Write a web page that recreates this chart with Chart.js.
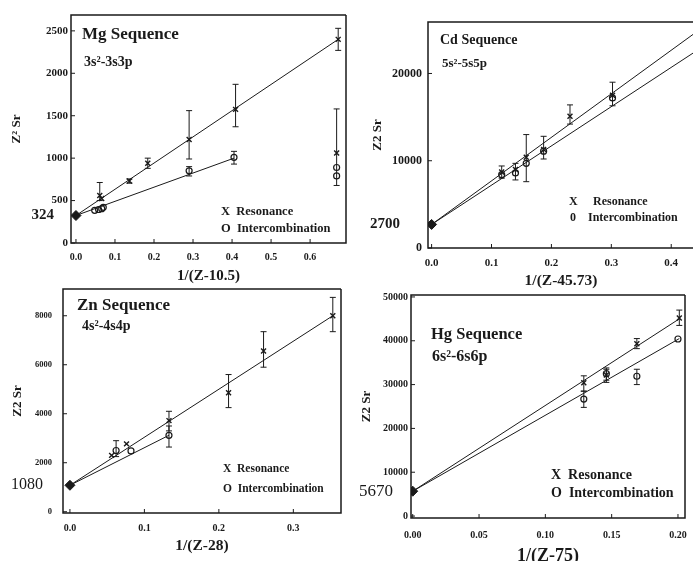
<!DOCTYPE html>
<html>
<head>
<meta charset="utf-8">
<title>Z2 Sr sequences</title>
<script src="https://cdn.jsdelivr.net/npm/chart.js@4.4.0/dist/chart.umd.min.js"></script>
<style>
    html, body { margin: 0; padding: 0; background: #fff; width: 693px; height: 561px; overflow: hidden; position: relative; }
    canvas { position: absolute; }
</style>
</head>
<body>
<canvas id="mg"></canvas>
<canvas id="cd"></canvas>
<canvas id="zn"></canvas>
<canvas id="hg"></canvas>
<script>
// ---- Mg sequence ----
const mgXTicks = [0, 0.1, 0.2, 0.3, 0.4, 0.5, 0.6];
const mgYTicks = [0, 500, 1000, 1500, 2000, 2500];
const mgIntercept = 324;
const mgResX = [0.061, 0.066, 0.137, 0.184, 0.290, 0.409, 0.672, 0.668];
const mgResY = [560, 525, 730, 940, 1220, 1575, 2400, 1060];
const mgResLo = [500, null, 705, 880, 990, 1370, 2270, 678];
const mgResHi = [713, null, 755, 1000, 1560, 1870, 2530, 1580];
const mgIntX = [0.048, 0.058, 0.066, 0.070, 0.290, 0.405, 0.668, 0.668];
const mgIntY = [385, 395, 405, 420, 850, 1010, 890, 790];
const mgIntLo = [null, null, null, null, 790, 930, null, null];
const mgIntHi = [null, null, null, null, 900, 1080, null, null];
const mgResFitX = [0, 0.672];
const mgResFitY = [324, 2400];
const mgIntFitX = [0, 0.405];
const mgIntFitY = [324, 1000];

// ---- Cd sequence ----
const cdXTicks = [0, 0.1, 0.2, 0.3, 0.4];
const cdYTicks = [0, 10000, 20000];
const cdIntercept = 2700;
const cdResX = [0.117, 0.140, 0.158, 0.187, 0.231, 0.302];
const cdResY = [8700, 9000, 10400, 11300, 15100, 17500];
const cdResLo = [8000, 7800, 7600, 10200, 14200, 16300];
const cdResHi = [9400, 9700, 13000, 12800, 16400, 19000];
const cdIntX = [0.117, 0.140, 0.158, 0.187, 0.302];
const cdIntY = [8400, 8600, 9700, 11100, 17200];
const cdResFitX = [0, 0.438];
const cdResFitY = [2700, 24560];
const cdIntFitX = [0, 0.438];
const cdIntFitY = [2700, 22410];

// ---- Zn sequence ----
const znXTicks = [0, 0.1, 0.2, 0.3];
const znYTicks = [0, 2000, 4000, 6000, 8000];
const znIntercept = 1080;
const znResX = [0.056, 0.076, 0.133, 0.213, 0.260, 0.353];
const znResY = [2300, 2770, 3720, 4860, 6560, 8000];
const znResLo = [null, null, 3300, 4250, 5900, 7350];
const znResHi = [null, null, 4100, 5600, 7350, 8750];
const znIntX = [0.062, 0.082, 0.133];
const znIntY = [2500, 2480, 3120];
const znIntLo = [2250, null, 2640];
const znIntHi = [2900, null, 3500];
const znResFitX = [0, 0.353];
const znResFitY = [1080, 8000];
const znIntFitX = [0, 0.133];
const znIntFitY = [1080, 3120];

// ---- Hg sequence ----
const hgXTicks = [0, 0.05, 0.10, 0.15, 0.20];
const hgYTicks = [0, 10000, 20000, 30000, 40000, 50000];
const hgIntercept = 5670;
const hgResX = [0.129, 0.146, 0.169, 0.201];
const hgResY = [30400, 32200, 39300, 45200];
const hgResLo = [28500, 30500, 38200, 43500];
const hgResHi = [32000, 33500, 40500, 47000];
const hgIntX = [0.129, 0.146, 0.169, 0.200];
const hgIntY = [26700, 32500, 31900, 40400];
const hgIntLo = [24800, 31000, 30000, null];
const hgIntHi = [28500, 33800, 33500, null];
const hgResFitX = [0, 0.201];
const hgResFitY = [5670, 45000];
const hgIntFitX = [0, 0.201];
const hgIntFitY = [5670, 40500];

const SERIF = '"Liberation Serif", "DejaVu Serif", serif';
const INK = '#1a1a1a';

function pts(xs, ys) {
    return xs.map((x, i) => ({ x: x, y: ys[i] }));
}

// draws box frame, inward ticks, error bars and the text labels
const decorPlugin = {
    id: 'decor',
    afterDatasetsDraw(chart) {
        const cfg = chart.options.plugins.decor;
        const ctx = chart.ctx;
        const a = chart.chartArea;
        const xs = chart.scales.x, ys = chart.scales.y;
        ctx.save();
        ctx.strokeStyle = INK;
        ctx.fillStyle = INK;

        // frame
        ctx.lineWidth = 1.5;
        ctx.beginPath();
        ctx.moveTo(a.right, a.top);
        ctx.lineTo(a.left, a.top);
        ctx.lineTo(a.left, a.bottom);
        ctx.lineTo(a.right, a.bottom);
        if (cfg.closeRight) ctx.lineTo(a.right, a.top);
        ctx.stroke();

        // inward ticks
        ctx.lineWidth = 1;
        ctx.beginPath();
        xs.ticks.forEach(t => {
            const px = xs.getPixelForValue(t.value);
            ctx.moveTo(px, a.bottom);
            ctx.lineTo(px, a.bottom - 4);
        });
        ys.ticks.forEach(t => {
            const py = ys.getPixelForValue(t.value);
            ctx.moveTo(a.left, py);
            ctx.lineTo(a.left + 4, py);
        });
        ctx.stroke();

        // error bars
        ctx.lineWidth = 1;
        cfg.errors.forEach(e => {
            e.x.forEach((xv, i) => {
                if (e.lo[i] == null) return;
                const px = xs.getPixelForValue(xv);
                const p1 = ys.getPixelForValue(e.lo[i]);
                const p2 = ys.getPixelForValue(e.hi[i]);
                ctx.beginPath();
                ctx.moveTo(px, p1); ctx.lineTo(px, p2);
                ctx.moveTo(px - 3, p1); ctx.lineTo(px + 3, p1);
                ctx.moveTo(px - 3, p2); ctx.lineTo(px + 3, p2);
                ctx.stroke();
            });
        });

        // intercept value label left of the axis
        ctx.textAlign = 'right';
        ctx.textBaseline = 'middle';
        ctx.font = cfg.icptFont;
        ctx.fillText(String(cfg.icpt), a.left - cfg.icptGap, ys.getPixelForValue(cfg.icpt));

        // titles and legend texts
        ctx.textAlign = 'left';
        cfg.texts.forEach(t => {
            ctx.font = t.font;
            ctx.fillText(t.text, a.left + t.dx, a.top + t.dy);
        });
        ctx.restore();
    }
};

function makePanel(p) {
    const canvas = document.getElementById(p.id);
    const w = p.yAxisW + p.frameW + p.padRight;
    const h = p.padTop + p.frameH + p.xAxisH;
    canvas.width = w;
    canvas.height = h;
    canvas.style.left = (p.frameL - p.yAxisW) + 'px';
    canvas.style.top = (p.frameT - p.padTop) + 'px';

    const lineDs = (xs, ys) => ({
        type: 'line', data: pts(xs, ys), borderColor: INK, borderWidth: 1,
        pointRadius: 0, fill: false, tension: 0
    });

    new Chart(canvas, {
        type: 'scatter',
        data: {
            datasets: [
                lineDs(p.resFitX, p.resFitY),
                lineDs(p.intFitX, p.intFitY),
                {
                    data: pts(p.resX, p.resY), pointStyle: 'crossRot', pointRadius: 3.5,
                    borderColor: INK, borderWidth: 1.4
                },
                {
                    data: pts(p.intX, p.intY), pointStyle: 'circle', pointRadius: 3,
                    borderColor: INK, backgroundColor: 'rgba(0,0,0,0)', borderWidth: 1.2
                },
                {
                    data: [{ x: 0, y: p.icpt }], pointStyle: 'rectRot', pointRadius: 5,
                    borderColor: INK, backgroundColor: INK
                }
            ]
        },
        options: {
            responsive: false,
            animation: false,
            layout: { padding: { top: p.padTop, right: p.padRight, left: 0, bottom: 0 } },
            plugins: {
                legend: { display: false },
                tooltip: { enabled: false },
                decor: {
                    errors: p.errors, texts: p.texts, icpt: p.icpt,
                    icptFont: p.icptFont, icptGap: p.icptGap, closeRight: p.closeRight
                }
            },
            scales: {
                x: {
                    type: 'linear', min: p.xMin, max: p.xMax,
                    afterBuildTicks: s => { s.ticks = p.xTicks.map(v => ({ value: v })); },
                    afterFit: s => { s.height = p.xAxisH; s.paddingLeft = 0; s.paddingRight = 0; },
                    grid: { display: false, drawTicks: false },
                    border: { display: false },
                    ticks: {
                        padding: p.xTickPad, color: INK, maxRotation: 0, autoSkip: false,
                        font: { family: SERIF, size: p.xTickSize, weight: 'bold' },
                        callback: v => Number(v).toFixed(p.xDec)
                    },
                    title: {
                        display: true, text: p.xTitle, color: INK,
                        font: { family: SERIF, size: p.xTitleSize, weight: 'bold' },
                        padding: { top: 0, bottom: p.xTitlePad }
                    }
                },
                y: {
                    type: 'linear', min: p.yMin, max: p.yMax,
                    afterBuildTicks: s => { s.ticks = p.yTicks.map(v => ({ value: v })); },
                    afterFit: s => { s.width = p.yAxisW; s.paddingTop = 0; s.paddingBottom = 0; },
                    grid: { display: false, drawTicks: false },
                    border: { display: false },
                    ticks: {
                        padding: p.yTickPad, color: INK, autoSkip: false,
                        font: { family: SERIF, size: p.yTickSize, weight: 'bold' },
                        callback: v => String(v)
                    },
                    title: {
                        display: true, text: p.yTitle, color: INK,
                        font: { family: SERIF, size: 13, weight: 'bold' },
                        padding: { top: p.yTitlePad, bottom: 0 }
                    }
                }
            }
        },
        plugins: [decorPlugin]
    });
}

const titleFont = s => 'bold ' + s + 'px ' + SERIF;

makePanel({
    id: 'mg', frameL: 71, frameT: 13, frameW: 277, frameH: 230,
    yAxisW: 70, xAxisH: 44, padTop: 4, padRight: 4,
    xMin: -0.0127, xMax: 0.692, yMin: 0, yMax: 2687,
    xTicks: mgXTicks, yTicks: mgYTicks, xDec: 1, xTickPad: 8, xTitlePad: 2, yTitlePad: 8,
    xTickSize: 10, yTickSize: 11, yTickPad: 3, xTitleSize: 15,
    xTitle: '1/(Z-10.5)', yTitle: 'Z² Sr',
    icpt: mgIntercept, icptFont: 'bold 15px ' + SERIF, icptGap: 17, closeRight: true,
    resX: mgResX, resY: mgResY, intX: mgIntX, intY: mgIntY,
    resFitX: mgResFitX, resFitY: mgResFitY, intFitX: mgIntFitX, intFitY: mgIntFitY,
    errors: [{ x: mgResX, lo: mgResLo, hi: mgResHi }, { x: mgIntX, lo: mgIntLo, hi: mgIntHi }],
    texts: [
        { text: 'Mg Sequence', dx: 11, dy: 20, font: titleFont(17) },
        { text: '3s²-3s3p', dx: 13, dy: 47, font: titleFont(14) },
        { text: 'X  Resonance', dx: 150, dy: 197, font: titleFont(12.5) },
        { text: 'O  Intercombination', dx: 150, dy: 214, font: titleFont(12.5) }
    ]
});

makePanel({
    id: 'cd', frameL: 428, frameT: 20, frameW: 272, frameH: 228,
    yAxisW: 70, xAxisH: 44, padTop: 4, padRight: 0,
    xMin: -0.006, xMax: 0.438, yMin: 0, yMax: 25900,
    xTicks: cdXTicks, yTicks: cdYTicks, xDec: 1, xTickPad: 9, xTitlePad: 2, yTitlePad: 12,
    xTickSize: 11, yTickSize: 12, yTickPad: 6, xTitleSize: 15.5,
    xTitle: '1/(Z-45.73)', yTitle: 'Z2 Sr',
    icpt: cdIntercept, icptFont: 'bold 15px ' + SERIF, icptGap: 28, closeRight: false,
    resX: cdResX, resY: cdResY, intX: cdIntX, intY: cdIntY,
    resFitX: cdResFitX, resFitY: cdResFitY, intFitX: cdIntFitX, intFitY: cdIntFitY,
    errors: [{ x: cdResX, lo: cdResLo, hi: cdResHi }],
    texts: [
        { text: 'Cd Sequence', dx: 12, dy: 18, font: titleFont(14) },
        { text: '5s²-5s5p', dx: 14, dy: 42, font: titleFont(13) },
        { text: 'X', dx: 141, dy: 180, font: titleFont(12) },
        { text: 'Resonance', dx: 165, dy: 180, font: titleFont(12) },
        { text: '0', dx: 142, dy: 196, font: titleFont(12) },
        { text: 'Intercombination', dx: 160, dy: 196, font: titleFont(12) }
    ]
});

makePanel({
    id: 'zn', frameL: 63, frameT: 287, frameW: 280, frameH: 226,
    yAxisW: 62, xAxisH: 44, padTop: 4, padRight: 4,
    xMin: -0.0093, xMax: 0.364, yMin: -52, yMax: 9092,
    xTicks: znXTicks, yTicks: znYTicks, xDec: 1, xTickPad: 9, xTitlePad: 2, yTitlePad: 9,
    xTickSize: 10, yTickSize: 8.5, yTickPad: 11, xTitleSize: 15.5,
    xTitle: '1/(Z-28)', yTitle: 'Z2 Sr',
    icpt: znIntercept, icptFont: '16px ' + SERIF, icptGap: 20, closeRight: true,
    resX: znResX, resY: znResY, intX: znIntX, intY: znIntY,
    resFitX: znResFitX, resFitY: znResFitY, intFitX: znIntFitX, intFitY: znIntFitY,
    errors: [{ x: znResX, lo: znResLo, hi: znResHi }, { x: znIntX, lo: znIntLo, hi: znIntHi }],
    texts: [
        { text: 'Zn Sequence', dx: 14, dy: 17, font: titleFont(17) },
        { text: '4s²-4s4p', dx: 19, dy: 37, font: titleFont(14) },
        { text: 'X  Resonance', dx: 160, dy: 180, font: titleFont(11.5) },
        { text: 'O  Intercombination', dx: 160, dy: 200, font: titleFont(11.5) }
    ]
});

makePanel({
    id: 'hg', frameL: 411, frameT: 293, frameW: 276, frameH: 225,
    yAxisW: 70, xAxisH: 50, padTop: 4, padRight: 4,
    xMin: -0.0013, xMax: 0.2053, yMin: -444, yMax: 50444,
    xTicks: hgXTicks, yTicks: hgYTicks, xDec: 2, xTickPad: 11, xTitlePad: 1, yTitlePad: 18,
    xTickSize: 10, yTickSize: 10, yTickPad: 3, xTitleSize: 18,
    xTitle: '1/(Z-75)', yTitle: 'Z2 Sr',
    icpt: hgIntercept, icptFont: '17px ' + SERIF, icptGap: 18, closeRight: true,
    resX: hgResX, resY: hgResY, intX: hgIntX, intY: hgIntY,
    resFitX: hgResFitX, resFitY: hgResFitY, intFitX: hgIntFitX, intFitY: hgIntFitY,
    errors: [{ x: hgResX, lo: hgResLo, hi: hgResHi }, { x: hgIntX, lo: hgIntLo, hi: hgIntHi }],
    texts: [
        { text: 'Hg Sequence', dx: 20, dy: 40, font: titleFont(16.5) },
        { text: '6s²-6s6p', dx: 21, dy: 62, font: titleFont(16) },
        { text: 'X  Resonance', dx: 140, dy: 180, font: titleFont(14) },
        { text: 'O  Intercombination', dx: 140, dy: 198, font: titleFont(14) }
    ]
});
</script>
</body>
</html>
